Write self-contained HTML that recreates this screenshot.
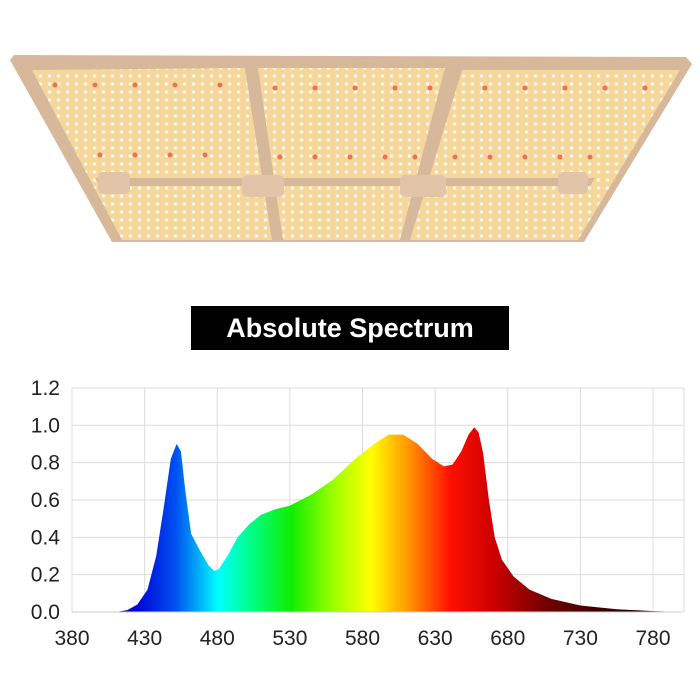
<!DOCTYPE html>
<html><head><meta charset="utf-8"><style>
html,body{margin:0;padding:0;background:#fff;}
svg{display:block}
</style></head><body>
<svg id="s" width="700" height="700" viewBox="0 0 700 700" xmlns="http://www.w3.org/2000/svg">
<defs>
<pattern id="dots" width="9" height="8" patternUnits="userSpaceOnUse">
<rect width="9" height="8" fill="#f5d79c"/>
<circle cx="4.5" cy="4" r="1.8" fill="#fff8e8"/>
</pattern>
<linearGradient id="spec" gradientUnits="userSpaceOnUse" x1="72" y1="0" x2="682" y2="0">
<stop offset="0.05" stop-color="#1000a0"/>
<stop offset="0.11" stop-color="#0008d8"/>
<stop offset="0.17" stop-color="#0050f0"/>
<stop offset="0.24" stop-color="#00ffff"/>
<stop offset="0.29" stop-color="#00ff90"/>
<stop offset="0.36" stop-color="#10ee00"/>
<stop offset="0.43" stop-color="#a0ff00"/>
<stop offset="0.49" stop-color="#ffff00"/>
<stop offset="0.55" stop-color="#ff9900"/>
<stop offset="0.62" stop-color="#ff1000"/>
<stop offset="0.69" stop-color="#cc0000"/>
<stop offset="0.78" stop-color="#700000"/>
<stop offset="0.88" stop-color="#300000"/>
<stop offset="1" stop-color="#200000"/>
</linearGradient>
</defs>
<polygon points="10,60 14,55 686,57 692,64 584,242 112,242" fill="#d8b89a"/>
<polygon points="32,70 245,68 272,240 122,240" fill="url(#dots)"/>
<polygon points="258,68 445,68 420,240 282,240" fill="url(#dots)"/>
<polygon points="462,70 680,70 578,240 410,240" fill="url(#dots)"/>
<polygon points="95,178 595,178 590,186 100,186" fill="#d8b89a"/>
<polygon points="245,68 258,68 283,240 272,240" fill="#d8b89a"/>
<polygon points="445,68 462,70 410,240 400,240" fill="#d8b89a"/>
<rect x="98" y="172" width="32" height="22" rx="5" fill="#e2c4a8"/>
<rect x="242" y="175" width="42" height="22" rx="5" fill="#e2c4a8"/>
<rect x="400" y="175" width="46" height="22" rx="5" fill="#e2c4a8"/>
<rect x="558" y="172" width="30" height="22" rx="5" fill="#e2c4a8"/>
<g fill="#f07050" id="reds"></g>
<rect x="191" y="306" width="318" height="44" fill="#000"/>
<text x="350" y="337" text-anchor="middle" font-family="Liberation Sans, sans-serif" font-weight="bold" font-size="27" fill="#fff">Absolute Spectrum</text>
<g stroke="#dcdcdc" stroke-width="1" id="grid"></g>
<path id="sp" fill="url(#spec)"/>
<line x1="72" y1="612" x2="682" y2="612" stroke="#ccc"/>
<g font-family="Liberation Sans, sans-serif" font-size="21" fill="#222" id="labels"></g>
</svg>
<script>
var ns="http://www.w3.org/2000/svg";
function X(nm){return 72+(nm-380)*1.4525;}
function Y(v){return 612-v*186.7;}
var g=document.getElementById('grid'),L=document.getElementById('labels');
for(var i=0;i<=6;i++){var y=Y(i*0.2);var l=document.createElementNS(ns,'line');l.setAttribute('x1',72);l.setAttribute('x2',684);l.setAttribute('y1',y);l.setAttribute('y2',y);g.appendChild(l);
var t=document.createElementNS(ns,'text');t.setAttribute('x',60);t.setAttribute('y',y+7);t.setAttribute('text-anchor','end');t.textContent=(i*0.2).toFixed(1);L.appendChild(t);}
for(var n=380;n<=780;n+=50){var x=X(n);var l=document.createElementNS(ns,'line');l.setAttribute('x1',x);l.setAttribute('x2',x);l.setAttribute('y1',Y(1.2));l.setAttribute('y2',612);g.appendChild(l);
var t=document.createElementNS(ns,'text');t.setAttribute('x',x);t.setAttribute('y',645);t.setAttribute('text-anchor','middle');t.textContent=n;L.appendChild(t);}
var l=document.createElementNS(ns,'line');l.setAttribute('x1',684);l.setAttribute('x2',684);l.setAttribute('y1',Y(1.2));l.setAttribute('y2',612);g.appendChild(l);
var p=[[410,0],[418,0.01],[425,0.04],[432,0.12],[438,0.3],[443,0.55],[448,0.82],[452,0.9],[455,0.86],[458,0.65],[462,0.42],[468,0.33],[474,0.25],[478,0.22],[481,0.23],[487,0.3],[494,0.4],[502,0.47],[510,0.52],[520,0.55],[530,0.57],[545,0.63],[560,0.71],[575,0.82],[588,0.9],[598,0.95],[608,0.95],[618,0.9],[628,0.82],[636,0.78],[642,0.79],[648,0.86],[653,0.95],[657,0.99],[660,0.96],[663,0.85],[667,0.6],[671,0.4],[676,0.28],[684,0.19],[695,0.12],[710,0.07],[730,0.035],[755,0.015],[780,0.005],[800,0]];
var d='M'+X(410)+','+Y(0);p.forEach(function(q){d+=' L'+X(q[0]).toFixed(1)+','+Y(q[1]).toFixed(1);});d+='Z';
document.getElementById('sp').setAttribute('d',d);
var R=document.getElementById('reds');
[[55,85],[95,85],[135,85],[175,85],[220,85],[275,88],[315,88],[355,88],[395,88],[430,88],[485,88],[525,88],[565,88],[605,88],[645,88],[100,155],[135,155],[170,155],[205,155],[280,157],[315,157],[350,157],[385,157],[415,157],[455,157],[490,157],[525,157],[560,157],[590,157]].forEach(function(c){var e=document.createElementNS(ns,'circle');e.setAttribute('cx',c[0]);e.setAttribute('cy',c[1]);e.setAttribute('r',2.5);R.appendChild(e);});
</script>
</body></html>
